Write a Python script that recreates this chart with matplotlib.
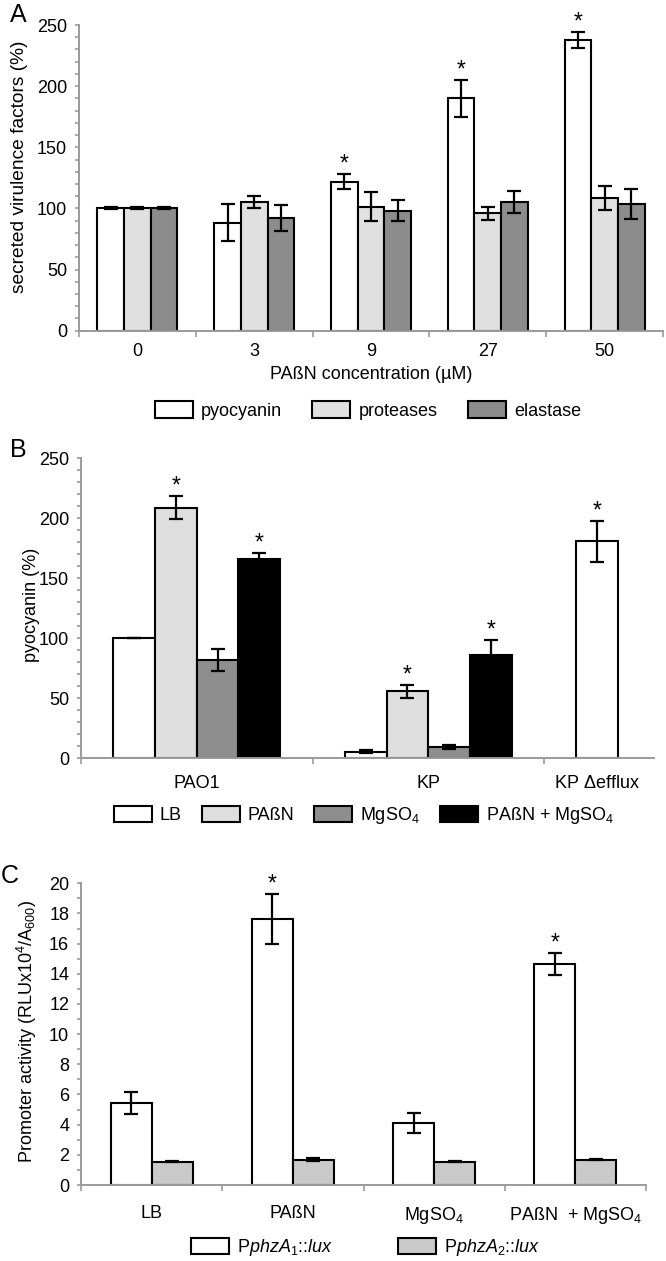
import numpy as np
import matplotlib
matplotlib.use("Agg")
import matplotlib.pyplot as plt

plt.rcParams['font.family'] = ['Liberation Sans', 'DejaVu Sans']
plt.rcParams['mathtext.fontset'] = 'custom'
plt.rcParams['mathtext.rm'] = 'Liberation Sans'
plt.rcParams['mathtext.it'] = 'Liberation Sans:italic'
plt.rcParams['mathtext.default'] = 'regular'

# ---- panel A data ----
a_conc = ['0', '3', '9', '27', '50']
a_series = ['pyocyanin', 'proteases', 'elastase']
a_vals = [[100, 88.3, 121.9, 189.9, 237.7],
          [100, 105.5, 101.4, 95.9, 108.5],
          [100, 92.3, 98.1, 105.5, 103.6]]
a_err = [[0.8, 15, 6, 15.5, 6.5],
         [0.8, 5, 12, 5.5, 9.5],
         [0.8, 10.5, 8.5, 9, 12]]
a_star = [[0, 0, 1, 1, 1], [0] * 5, [0] * 5]

# ---- panel B data ----
b_strains = ['PAO1', 'KP', 'KP $\\Delta$efflux']
b_series = ['LB', 'PAßN', 'MgSO$_4$', 'PAßN + MgSO$_4$']
b_vals = [[100, 5.5, 181],
          [209, 56, np.nan],
          [82, 9.5, np.nan],
          [166.5, 86, np.nan]]
b_err = [[0, 1.2, 17],
         [9.5, 5.5, np.nan],
         [9, 2, np.nan],
         [5, 13, np.nan]]
b_star = [[0, 0, 1], [1, 1, 0], [0, 0, 0], [1, 1, 0]]

# ---- panel C data ----
c_cond = ['LB', 'PAßN', 'MgSO$_4$', 'PAßN  + MgSO$_4$']
c_series = ['P$\\mathit{phzA_1}$::$\\mathit{lux}$', 'P$\\mathit{phzA_2}$::$\\mathit{lux}$']
c_vals = [[5.43, 17.63, 4.1, 14.64],
          [1.55, 1.68, 1.55, 1.68]]
c_err = [[0.75, 1.65, 0.68, 0.73],
         [0.03, 0.08, 0.04, 0.03]]
c_star = [[0, 1, 0, 1], [0, 0, 0, 0]]

AX_GRAY = '#9a9a9a'
FS = 13


def style_axis(ax, ymax, major, minor, ngroups, xmax, end_tick=True):
    for s in ['top', 'right']:
        ax.spines[s].set_visible(False)
    for s in ['left', 'bottom']:
        ax.spines[s].set_color(AX_GRAY)
        ax.spines[s].set_linewidth(1.4)
    ax.set_ylim(0, ymax)
    ax.set_xlim(-0.5, xmax)
    ax.set_yticks(np.arange(0, ymax + 0.001, major))
    ax.set_yticks(np.arange(0, ymax + 0.001, minor), minor=True)
    ax.tick_params(axis='y', which='both', direction='out', length=3, width=1.2,
                   color=AX_GRAY, labelsize=FS, pad=5.5)
    seps = np.arange(ngroups + 1) - 0.5
    if not end_tick:
        seps = seps[seps < xmax]
    ax.set_xticks(seps)
    ax.set_xticklabels([])
    ax.tick_params(axis='x', which='major', direction='out', length=4.5, width=1.2,
                   color=AX_GRAY)


def draw_bars(ax, vals, err, stars, colors, width, labels):
    n = len(vals)
    for i in range(n):
        x = np.arange(len(vals[i])) + (i - (n - 1) / 2) * width
        ax.bar(x, vals[i], width, color=colors[i], edgecolor='black',
               linewidth=1.5, label=labels[i], zorder=2)
        ax.errorbar(x, vals[i], yerr=err[i], fmt='none', ecolor='black',
                    elinewidth=1.6, capsize=5, capthick=1.6, zorder=3)
        for xx, v, e, s in zip(x, vals[i], err[i], stars[i]):
            if s:
                ax.annotate('*', (xx, v + e), xytext=(0, 2.5), textcoords='offset points',
                            ha='center', va='baseline', fontsize=16.5)


def add_legend(ax, cx, cy, ncol, colsp):
    fig.legend(*ax.get_legend_handles_labels(), loc='center', ncol=ncol,
               bbox_to_anchor=(cx / 666, 1 - cy / 1261), frameon=False, fontsize=FS,
               handlelength=2.1, handleheight=1.0, handletextpad=0.45,
               columnspacing=colsp, borderpad=0)


fig = plt.figure(figsize=(6.66, 12.61), dpi=100)

# ---------------- A ----------------
axA = fig.add_axes([79 / 666, 1 - 330.7 / 1261, 584 / 666, 305.7 / 1261])
style_axis(axA, 250, 50, 10, 5, 4.5)
draw_bars(axA, a_vals, a_err, a_star, ['white', '#e0e0e0', '#8c8c8c'], 0.228, a_series)
axA.set_xticks(np.arange(5), minor=True)
axA.set_xticklabels(a_conc, minor=True, fontsize=FS)
axA.tick_params(axis='x', which='minor', length=0, pad=9)
axA.set_xlabel('PAßN concentration (µM)', fontsize=FS, labelpad=4)
axA.set_ylabel('secreted virulence factors (%)', fontsize=13.8)
axA.yaxis.set_label_coords(-0.087, 0.535)
add_legend(axA, 368, 410.5, 3, 1.7)
fig.text(10 / 666, 1 - 22 / 1261, 'A', fontsize=18, va='baseline', ha='left')

# ---------------- B ----------------
axB = fig.add_axes([81 / 666, 1 - 758.3 / 1261, 573 / 666, 300 / 1261])
style_axis(axB, 250, 50, 10, 3, 1.975, end_tick=False)
draw_bars(axB, b_vals, b_err, b_star, ['white', '#dedede', '#8e8e8e', 'black'], 0.18, b_series)
b_pos = [0, 1, 2 - 1.5 * 0.18]
axB.set_xticks(b_pos, minor=True)
axB.set_xticklabels(b_strains, minor=True, fontsize=FS)
axB.tick_params(axis='x', which='minor', length=0, pad=12)
axB.set_ylabel('pyocyanin (%)', fontsize=FS)
axB.yaxis.set_label_coords(-0.072, 0.51)
add_legend(axB, 364, 815.5, 4, 1.1)
fig.text(10 / 666, 1 - 456.7 / 1261, 'B', fontsize=18, va='baseline', ha='left')

# ---------------- C ----------------
axC = fig.add_axes([81 / 666, 1 - 1185 / 1261, 565 / 666, 301.7 / 1261])
style_axis(axC, 20, 2, 1, 4, 3.5)
draw_bars(axC, c_vals, c_err, c_star, ['white', '#c9c9c9'], 0.29, c_series)
axC.set_xticks(np.arange(4), minor=True)
axC.set_xticklabels(c_cond, minor=True, fontsize=FS)
axC.tick_params(axis='x', which='minor', length=0, pad=14.5)
axC.set_ylabel('Promoter activity (RLUx10$^4$/A$_{600}$)', fontsize=FS)
axC.yaxis.set_label_coords(-0.074, 0.51)
add_legend(axC, 365.5, 1248, 2, 3.6)
fig.text(0.5 / 666, 1 - 883 / 1261, 'C', fontsize=18, va='baseline', ha='left')

fig.savefig('out.png', dpi=100)
